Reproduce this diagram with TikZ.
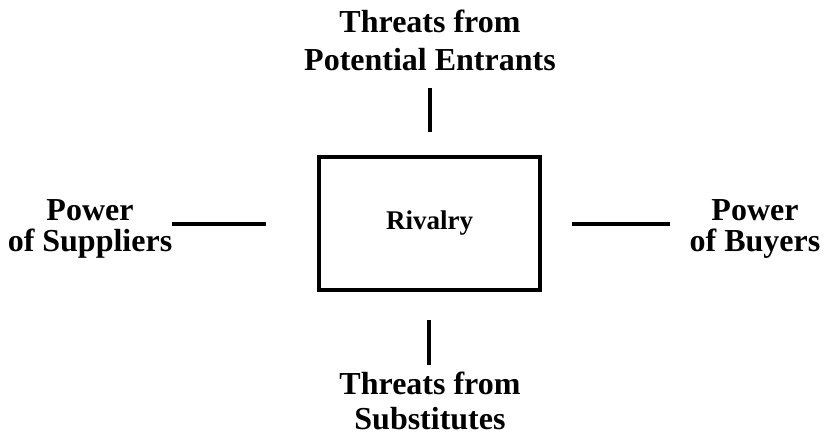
\documentclass[tikz,border=0pt]{standalone}
\usepackage{fontspec}
\setmainfont{Liberation Serif}
\begin{document}
\begin{tikzpicture}[x=1pt,y=-1pt,
  lbl/.style={font=\bfseries\fontsize{32}{#1}\selectfont, align=center, inner sep=0pt},
  lbl/.default=35,
  link/.style={line width=3.5pt}]
\useasboundingbox (0,0) rectangle (833,437);
% central box
\node[draw, line width=4pt, minimum width=221pt, minimum height=133pt, inner sep=0pt,
      font=\bfseries\fontsize{27}{30}\selectfont] (riv) at (429.5,223.5) {Rivalry};
% the four forces
\node[lbl=38] (ent) at (430,40) {Threats from\\Potential Entrants};
\node[lbl=35] (sub) at (430,401) {Threats from\\Substitutes};
\node[lbl=31] (sup) at (90,229) {Power\\of Suppliers};
\node[lbl=31] (buy) at (755,229) {Power\\of Buyers};
% connector end points
\coordinate (et) at (430,88);  \coordinate (eb) at (430,132);
\coordinate (st) at (429,320); \coordinate (sb) at (429,365);
\coordinate (ll) at (172,224); \coordinate (lr) at (266,224);
\coordinate (rl) at (572,224); \coordinate (rr) at (670,224);
\draw[link] (et) -- (eb);
\draw[link] (st) -- (sb);
\draw[link] (ll) -- (lr);
\draw[link] (rl) -- (rr);
\end{tikzpicture}
\end{document}
